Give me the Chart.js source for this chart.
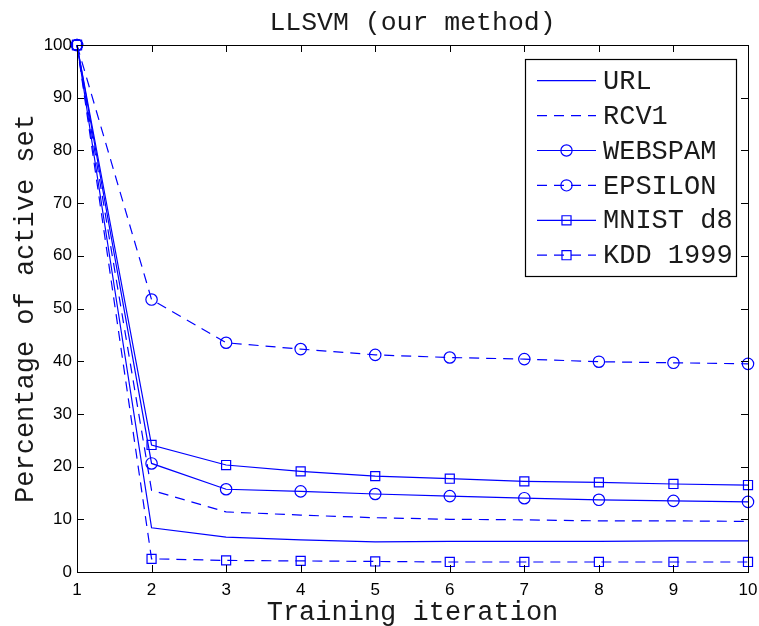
<!DOCTYPE html>
<html>
<head>
<meta charset="utf-8">
<script src="https://cdn.jsdelivr.net/npm/chart.js@4/dist/chart.umd.min.js"></script>
<style>
  html, body { margin:0; padding:0; background:#fff; }
  #wrap { width:759px; height:626px; }
</style>
</head>
<body>
<div id="wrap"><canvas id="c" width="759" height="626"></canvas></div>
<script>
const iterations = [1, 2, 3, 4, 5, 6, 7, 8, 9, 10];
const urlVals     = [100, 8.4, 6.6, 6.1, 5.7, 5.8, 5.8, 5.8, 5.9, 5.9];
const rcv1Vals    = [100, 15.5, 11.4, 10.8, 10.3, 10.0, 9.9, 9.7, 9.7, 9.6];
const webspamVals = [100, 20.6, 15.7, 15.3, 14.8, 14.4, 14.0, 13.7, 13.5, 13.3];
const epsilonVals = [100, 51.7, 43.5, 42.3, 41.2, 40.7, 40.4, 39.9, 39.7, 39.5];
const mnistVals   = [100, 24.1, 20.3, 19.1, 18.2, 17.7, 17.2, 17.0, 16.7, 16.5];
const kddVals     = [100, 2.5, 2.2, 2.1, 2.0, 1.9, 1.9, 1.9, 1.9, 1.9];
const yTicks = [0, 10, 20, 30, 40, 50, 60, 70, 80, 90, 100];

const BLUE = "#0000ff";
const DASH = [10, 7];
const MONO = "'Liberation Mono', 'DejaVu Sans Mono', monospace";
const TEXT = "#1a1a1a";

function series(label, vals, dashed, marker){
  return {
    label,
    data: iterations.map((x, i) => ({ x, y: vals[i] })),
    borderColor: BLUE,
    borderWidth: 1.2,
    borderDash: dashed ? DASH : [],
    backgroundColor: "transparent",
    pointStyle: marker || "circle",
    pointRadius: marker ? (marker === "rect" ? 6.4 : 5.7) : 0,
    pointHoverRadius: 0,
    pointBorderColor: BLUE,
    pointBackgroundColor: "transparent",
    pointBorderWidth: 1.2,
    tension: 0,
    clip: false
  };
}

const datasets = [
  series("URL", urlVals, false, null),
  series("RCV1", rcv1Vals, true, null),
  series("WEBSPAM", webspamVals, false, "circle"),
  series("EPSILON", epsilonVals, true, "circle"),
  series("MNIST d8", mnistVals, false, "rect"),
  series("KDD 1999", kddVals, true, "rect")
];

// matlab-like frame, inward ticks, titles and legend
const decor = {
  id: "decor",
  afterDraw(chart){
    const ctx = chart.ctx;
    const a = chart.chartArea;
    const xs = chart.scales.x, ys = chart.scales.y;
    ctx.save();
    ctx.strokeStyle = "#000";
    ctx.lineWidth = 1;
    ctx.setLineDash([]);
    ctx.strokeRect(Math.round(a.left)+0.5, Math.round(a.top)+0.5, Math.round(a.right-a.left), Math.round(a.bottom-a.top));
    const tl = 7;
    ctx.beginPath();
    for(const v of iterations){
      const px = Math.round(xs.getPixelForValue(v)) + 0.5;
      ctx.moveTo(px, a.bottom); ctx.lineTo(px, a.bottom - tl);
      ctx.moveTo(px, a.top); ctx.lineTo(px, a.top + tl);
    }
    for(const v of yTicks){
      const py = Math.round(ys.getPixelForValue(v)) + 0.5;
      ctx.moveTo(a.left, py); ctx.lineTo(a.left + tl, py);
      ctx.moveTo(a.right, py); ctx.lineTo(a.right - tl, py);
    }
    ctx.stroke();

    // titles
    ctx.fillStyle = TEXT;
    ctx.textAlign = "center";
    ctx.textBaseline = "alphabetic";
    ctx.font = "26.5px " + MONO;
    ctx.fillText("LLSVM (our method)", (a.left + a.right)/2, 30);
    ctx.font = "27px " + MONO;
    ctx.fillText("Training iteration", (a.left + a.right)/2, 620);
    ctx.save();
    ctx.translate(33, (a.top + a.bottom)/2);
    ctx.rotate(-Math.PI/2);
    ctx.fillText("Percentage of active set", 0, 0);
    ctx.restore();

    // legend
    const bx = 525.5, by = 59.5, bw = 211, bh = 217;
    ctx.fillStyle = "#fff";
    ctx.fillRect(bx, by, bw, bh);
    ctx.strokeStyle = "#000";
    ctx.lineWidth = 1.2;
    ctx.strokeRect(bx, by, bw, bh);
    const rowH = 34.9;
    chart.data.datasets.forEach((ds, i) => {
      const y = 80.7 + i*rowH;
      ctx.strokeStyle = BLUE;
      ctx.lineWidth = ds.borderWidth;
      ctx.setLineDash(ds.borderDash);
      ctx.beginPath();
      ctx.moveTo(537, y); ctx.lineTo(596, y);
      ctx.stroke();
      ctx.setLineDash([]);
      if(ds.pointRadius > 0){
        ctx.fillStyle = "rgba(0,0,0,0)";
        ctx.strokeStyle = BLUE;
        Chart.helpers.drawPoint(ctx, {
          pointStyle: ds.pointStyle,
          radius: ds.pointStyle === "rect" ? 6.4 : 5.6,
          borderWidth: ds.pointBorderWidth,
          rotation: 0
        }, 566.5, y);
      }
      ctx.fillStyle = TEXT;
      ctx.textAlign = "left";
      ctx.textBaseline = "middle";
      ctx.font = "27px " + MONO;
      ctx.fillText(ds.label, 603, y + 1);
    });
    ctx.restore();
  }
};

new Chart(document.getElementById("c"), {
  type: "line",
  data: { datasets },
  options: {
    responsive: false,
    animation: false,
    events: [],
    layout: { padding: { top: 45, right: 11, left: 0, bottom: 0 } },
    plugins: { legend: { display: false }, title: { display: false }, tooltip: { enabled: false } },
    scales: {
      x: {
        type: "linear",
        min: 1, max: 10,
        grid: { display: false, drawTicks: false },
        border: { display: false },
        ticks: {
          stepSize: 1, padding: 8, color: "#000",
          font: { family: "'Liberation Sans', Arial, sans-serif", size: 17 },
          maxRotation: 0
        },
        afterFit(s){ s.height = 54; s.paddingLeft = 0; s.paddingRight = 0; }
      },
      y: {
        min: 0, max: 100,
        afterBuildTicks(s){ s.ticks = yTicks.map(v => ({ value: v })); },
        grid: { display: false, drawTicks: false },
        border: { display: false },
        ticks: {
          padding: 5, color: "#000",
          font: { family: "'Liberation Sans', Arial, sans-serif", size: 17 }
        },
        afterFit(s){ s.width = 77; s.paddingTop = 0; s.paddingBottom = 0; }
      }
    }
  },
  plugins: [decor]
});
</script>
</body>
</html>
